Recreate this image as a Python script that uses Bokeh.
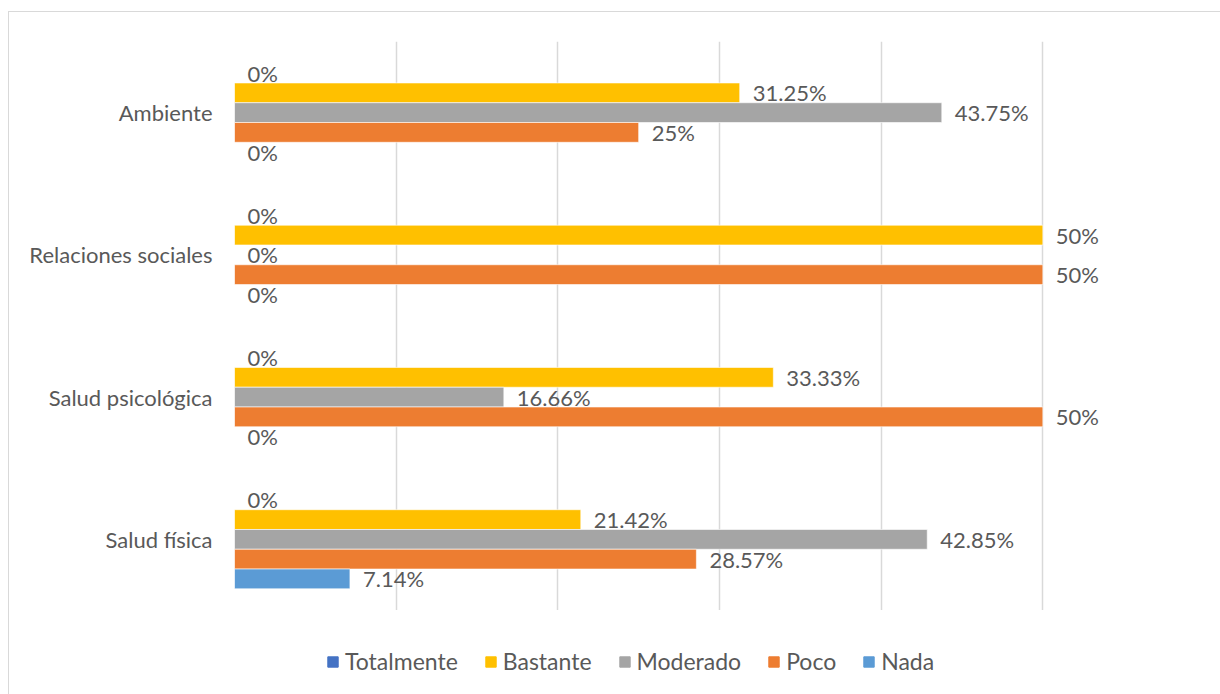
from bokeh.plotting import figure
from bokeh.layouts import column
from bokeh.models import ColumnDataSource, FactorRange, Range1d, FixedTicker, Legend, LegendItem
from bokeh.transform import dodge
from bokeh.core.properties import value
from bokeh.embed import file_html
from bokeh.resources import INLINE

# ---- data ----
categories = ["Ambiente", "Relaciones sociales", "Salud psicológica", "Salud física"]
series = ["Totalmente", "Bastante", "Moderado", "Poco", "Nada"]
totalmente = [0, 0, 0, 0]
bastante = [31.25, 50, 33.33, 21.42]
moderado = [43.75, 0, 16.66, 42.85]
poco = [25, 50, 50, 28.57]
nada = [0, 0, 0, 7.14]
colors = ["#4472C4", "#FFC000", "#A5A5A5", "#ED7D31", "#5B9BD5"]
x_ticks = [0, 10, 20, 30, 40, 50, 60]

values_by_series = [totalmente, bastante, moderado, poco, nada]

FONT = "Lato"
TXT = "#595959"
BAR_H = 0.139
FS = "22px"

p = figure(
    width=1211, height=598,
    y_range=FactorRange(factors=list(reversed(categories))),
    x_range=Range1d(0, 60),
    output_backend="svg", toolbar_location=None,
    min_border_left=225, min_border_right=16, min_border_top=29, min_border_bottom=0,
)
p.outline_line_color = None
p.background_fill_color = "white"

n = len(series)
for i, (name, vals, col) in enumerate(zip(series, values_by_series, colors)):
    off = ((n - 1) / 2 - i) * BAR_H
    src = ColumnDataSource(dict(cat=categories, val=vals, lab=[f"{v:g}%" for v in vals]))
    p.hbar(y=dodge("cat", off, range=p.y_range), right="val", left=0, height=BAR_H,
           source=src, fill_color=col, line_color="white", line_width=0.6)
    p.text(x="val", y=dodge("cat", off, range=p.y_range), text="lab", source=src,
           x_offset=13, text_baseline="middle", text_align="left",
           text_font=value(FONT), text_font_size=FS, text_color=TXT)

p.xaxis.visible = False
p.xgrid.ticker = FixedTicker(ticks=x_ticks)
p.xgrid.grid_line_color = "#d9d9d9"
p.xgrid.grid_line_width = 1.5
p.ygrid.grid_line_color = None

ya = p.yaxis[0]
ya.axis_line_color = None
ya.major_tick_line_color = None
ya.minor_tick_line_color = None
ya.major_label_standoff = 16
ya.major_label_text_font = FONT
ya.major_label_text_font_size = FS
ya.major_label_text_color = TXT

# ---- legend strip below the chart (swatch renderers sit outside the strip's visible range) ----
lg = figure(width=1211, height=84, x_range=Range1d(0, 1), y_range=Range1d(0, 1),
            output_backend="svg", toolbar_location=None,
            x_axis_location=None, y_axis_location=None,
            min_border_left=0, min_border_right=0, min_border_top=0, min_border_bottom=0)
lg.grid.visible = False
lg.outline_line_color = None
items = []
for name, col in zip(series, colors):
    r = lg.quad(left=[-3], right=[-2], top=[-2], bottom=[-3], fill_color=col, line_color=col)
    items.append(LegendItem(label=name, renderers=[r]))
legend = Legend(items=items, orientation="horizontal", location=(92, 19),
                glyph_width=13, glyph_height=13, label_standoff=6, spacing=26,
                padding=0, margin=0, border_line_color=None, background_fill_alpha=0,
                label_text_font=FONT, label_text_font_size="23px", label_text_color=TXT)
lg.add_layout(legend, "center")

layout = column(p, lg, spacing=0)
layout.styles = {"border-top": "1px solid #d9d9d9", "border-left": "1px solid #d9d9d9",
                 "margin-left": "8px", "margin-top": "11px"}

open("out.html", "w").write(file_html(layout, INLINE))
